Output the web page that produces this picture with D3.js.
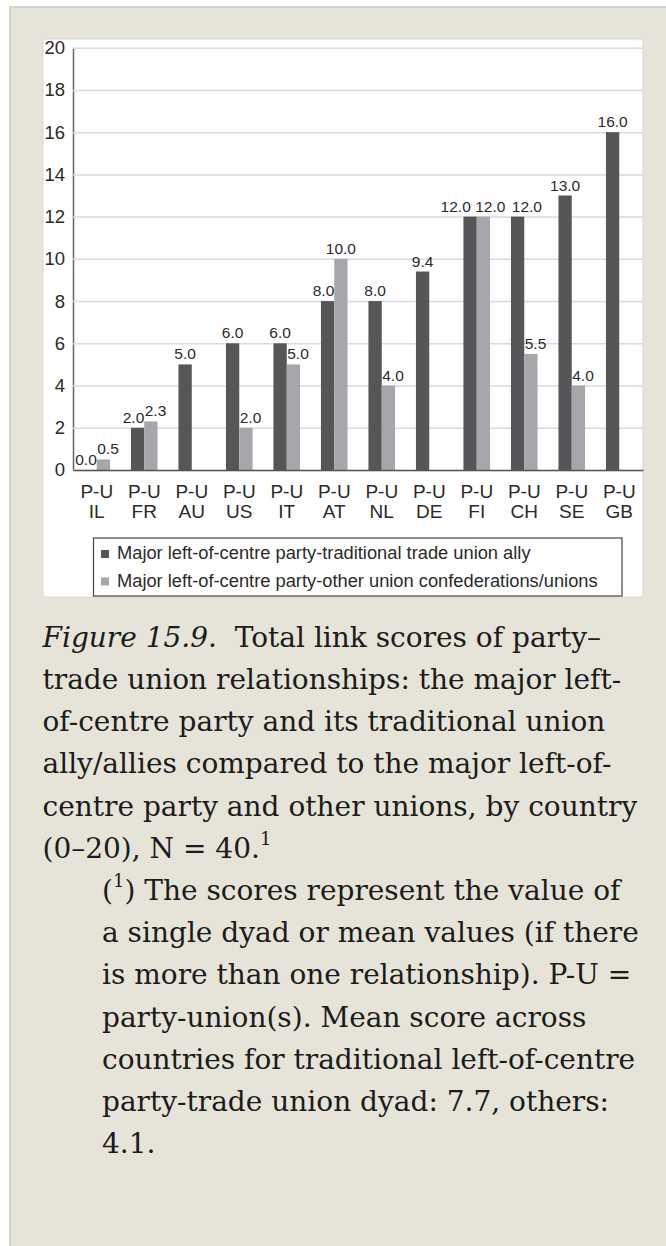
<!DOCTYPE html>
<meta charset="utf-8">
<style>
body { margin: 0; background: #fff; }
svg { display: block; }
.chart text { font-family: "Liberation Sans", Arial, sans-serif; fill: #2a2a2a; }
.caption text { font-family: "DejaVu Serif", serif; font-size: 28px; fill: #1b1b1b; }
</style>
<svg width="666" height="1246"></svg>
<script src="https://cdn.jsdelivr.net/npm/d3@7"></script>
<script>
// countries and the two series (NaN = no bar)
var countries = ["IL", "FR", "AU", "US", "IT", "AT", "NL", "DE", "FI", "CH", "SE", "GB"];
var tradAlly = [0.0, 2.0, 5.0, 6.0, 6.0, 8.0, 8.0, 9.4, 12.0, 12.0, 13.0, 16.0];
var otherUnions = [0.5, 2.3, NaN, 2.0, 5.0, 10.0, 4.0, NaN, 12.0, 5.5, 4.0, NaN];
var yTicks = [0, 2, 4, 6, 8, 10, 12, 14, 16, 18, 20];
var seriesNames = ["Major left-of-centre party-traditional trade union ally",
                   "Major left-of-centre party-other union confederations/unions"];
var colors = ["#565658", "#a6a7aa"];

var captionLines = [
  "trade union relationships: the major left-",
  "of-centre party and its traditional union",
  "ally/allies compared to the major left-of-",
  "centre party and other unions, by country"
];
var noteLines = [
  "a single dyad or mean values (if there",
  "is more than one relationship). P-U =",
  "party-union(s). Mean score across",
  "countries for traditional left-of-centre",
  "party-trade union dyad: 7.7, others:",
  "4.1."
];

var svg = d3.select("svg");

// panel background
svg.append("rect")
    .attr("x", 10).attr("y", 7)
    .attr("width", 700).attr("height", 1300)
    .attr("fill", "#e6e4d9")
    .attr("stroke", "#d2d2d0")
    .attr("stroke-width", 2);

var chart = svg.append("g").attr("class", "chart");

chart.append("rect")
    .attr("x", 43).attr("y", 39)
    .attr("width", 600).attr("height", 558)
    .attr("fill", "#fff")
    .attr("stroke", "#d6d6d6")
    .attr("stroke-width", 1);

var plotLeft = 73, plotRight = 643, plotTop = 47.7, plotBottom = 470;

var x = d3.scaleBand()
    .domain(countries)
    .range([plotLeft, plotRight])
    .paddingInner(0.44)
    .paddingOuter(0.22);

var sub = d3.scaleBand()
    .domain([0, 1])
    .range([0, x.bandwidth()]);

var y = d3.scaleLinear()
    .domain([0, 20])
    .range([plotBottom, plotTop]);

// y axis with gridlines
var yAxis = chart.append("g")
    .attr("transform", "translate(" + plotLeft + ",0)")
    .call(d3.axisLeft(y)
      .tickValues(yTicks)
      .tickSizeInner(-(plotRight - plotLeft))
      .tickSizeOuter(0)
      .tickPadding(8));

yAxis.select(".domain").attr("stroke", "#666").attr("stroke-width", 1.5);
yAxis.selectAll(".tick line").attr("stroke", "#dadada").attr("stroke-width", 1.5);
yAxis.selectAll(".tick text").style("font-size", "18.5px");

// bars
var groups = chart.selectAll(".grp")
    .data(countries)
  .enter().append("g")
    .attr("class", "grp")
    .attr("transform", function(d) { return "translate(" + x(d) + ",0)"; });

var labelPairs = [];

groups.each(function(c, i) {
  var g = d3.select(this);
  var vals = [tradAlly[i], otherUnions[i]];
  vals.forEach(function(v, k) {
    if (isNaN(v)) return;
    g.append("rect")
      .attr("x", sub(k))
      .attr("y", y(v))
      .attr("width", sub.bandwidth())
      .attr("height", y(0) - y(v))
      .attr("fill", colors[k]);
  });

  // value labels, nudged apart when the light bar is as tall as the dark one
  var t = vals[0], o = vals[1];
  var darkAnchor = "middle", darkX = sub(0) + sub.bandwidth() / 2;
  if (!isNaN(o) && o >= t) {
    darkAnchor = "end";
    darkX = sub(0) + sub.bandwidth() - (o === t ? 6 : 0);
  }
  var dark = g.append("text")
    .attr("x", darkX)
    .attr("y", y(t) - 5)
    .attr("text-anchor", darkAnchor)
    .style("font-size", "15.5px")
    .text(d3.format(".1f")(t));

  var light = null;
  if (!isNaN(o)) {
    var lightCentered = o - t > 1;
    light = g.append("text")
      .attr("x", lightCentered ? sub(1) + sub.bandwidth() / 2 : sub(1) - (o === t ? 1.5 : -0.5))
      .attr("y", y(o) - 5)
      .attr("text-anchor", lightCentered ? "middle" : "start")
      .style("font-size", "15.5px")
      .text(d3.format(".1f")(o));
  }
  labelPairs.push({ dark: dark, light: light, off: x(c) });
});

// push a dark label right if it runs into the neighbouring group's light label
function box(sel, off) {
  var b = sel.node().getBBox();
  return { x0: b.x + off, x1: b.x + b.width + off, y0: b.y, y1: b.y + b.height };
}
labelPairs.forEach(function(p, i) {
  if (i === 0 || !labelPairs[i - 1].light) return;
  var prev = box(labelPairs[i - 1].light, labelPairs[i - 1].off);
  var cur = box(p.dark, p.off);
  if (cur.y0 < prev.y1 && cur.y1 > prev.y0 && cur.x0 < prev.x1 + 6) {
    p.dark.attr("x", +p.dark.attr("x") + (prev.x1 + 6 - cur.x0));
  }
});

// x axis
var xAxis = chart.append("g")
    .attr("transform", "translate(0," + plotBottom + ")")
    .call(d3.axisBottom(x).tickSize(0).tickSizeOuter(0).tickPadding(0));

xAxis.select(".domain").attr("stroke", "#555").attr("stroke-width", 1.5);
xAxis.selectAll(".tick text").each(function(d) {
  var t = d3.select(this).text(null).attr("dy", null).attr("y", 0)
      .style("font-size", "19px");
  t.append("tspan").attr("x", 0).attr("y", 28).text("P-U");
  t.append("tspan").attr("x", 0).attr("y", 48).text(d);
});

// legend
var legend = chart.append("g");
legend.append("rect")
    .attr("x", 93.5).attr("y", 538)
    .attr("width", 528.5).attr("height", 58)
    .attr("fill", "#fff")
    .attr("stroke", "#444")
    .attr("stroke-width", 1.2);

seriesNames.forEach(function(name, k) {
  legend.append("rect")
    .attr("x", 101).attr("y", 550 + k * 27.5)
    .attr("width", 8).attr("height", 8)
    .attr("fill", colors[k]);
  legend.append("text")
    .attr("x", 117).attr("y", 559 + k * 28)
    .style("font-size", "18.3px")
    .text(name);
});

// caption
var cap = svg.append("g").attr("class", "caption");
var lh = 42.2, y0 = 646.7;

var first = cap.append("text").attr("x", 42.5).attr("y", y0).attr("xml:space", "preserve");
first.append("tspan").style("font-style", "italic").text("Figure 15.9.");
first.append("tspan").text("  Total link scores of party\u2013");

captionLines.forEach(function(line, i) {
  cap.append("text").attr("x", 42.5).attr("y", y0 + lh * (i + 1)).text(line);
});

var last = cap.append("text").attr("x", 42.5).attr("y", y0 + lh * 5);
last.append("tspan").text("(0\u201320), N = 40.");
last.append("tspan").attr("dy", -13).style("font-size", "18px").text("1");

var note = cap.append("text").attr("x", 102).attr("y", y0 + lh * 6);
note.append("tspan").text("(");
note.append("tspan").attr("dy", -13).style("font-size", "18px").text("1");
note.append("tspan").attr("dy", 13).text(") The scores represent the value of");

noteLines.forEach(function(line, i) {
  cap.append("text").attr("x", 102).attr("y", y0 + lh * (i + 7)).text(line);
});
</script>
